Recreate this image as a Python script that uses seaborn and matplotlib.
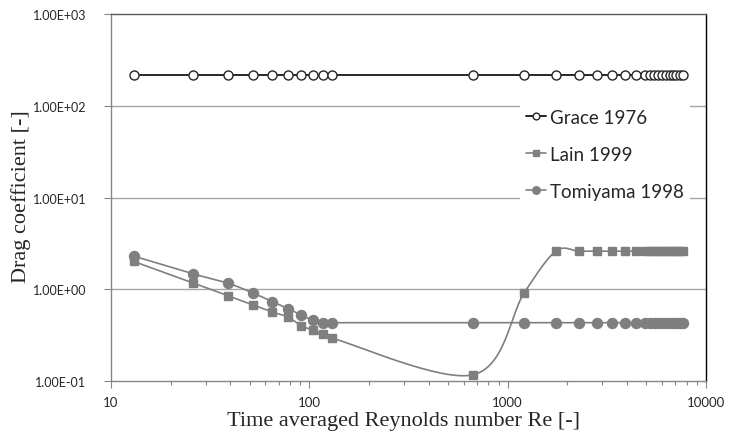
import numpy as np
import pandas as pd
import matplotlib
matplotlib.use("Agg")
import matplotlib.pyplot as plt
from matplotlib.lines import Line2D
import seaborn as sns

# ---- data ----
reynolds = [13, 26, 39, 52, 65, 78, 91, 104, 117, 130,
            671, 1213, 1750, 2276, 2813, 3348, 3908, 4425, 4924,
            5200, 5470, 5740, 6010, 6280, 6550, 6820, 7090, 7360, 7630]
grace = [215] * len(reynolds)
lain = [2.01, 1.17, 0.846, 0.675, 0.565, 0.499, 0.401, 0.36, 0.325, 0.294,
        0.117, 0.92, 2.6, 2.6, 2.6, 2.6, 2.6, 2.6, 2.6,
        2.6, 2.6, 2.6, 2.6, 2.6, 2.6, 2.6, 2.6, 2.6, 2.6]
tomiyama = [2.30, 1.47, 1.16, 0.91, 0.733, 0.615, 0.525, 0.458, 0.432, 0.432,
            0.432, 0.432, 0.432, 0.432, 0.432, 0.432, 0.432, 0.432, 0.432,
            0.432, 0.432, 0.432, 0.432, 0.432, 0.432, 0.432, 0.432, 0.432, 0.432]
series_names = ["Grace 1976", "Lain 1999", "Tomiyama 1998"]
x_ticks = [10, 100, 1000, 10000]
x_ticklabels = ["10", "100", "1000", "10000"]
y_ticks = [0.1, 1, 10, 100, 1000]
y_ticklabels = ["1.00E-01", "1.00E+00", "1.00E+01", "1.00E+02", "1.00E+03"]


def smooth(xs, ys, n=30):
    """Excel-style smoothed line (Bezier through points) in log-log space."""
    lx = np.log10(np.asarray(xs, float))
    ly = np.log10(np.asarray(ys, float))
    P = np.column_stack([lx, ly])
    out = []
    m = len(P)
    for i in range(m - 1):
        p0 = P[i - 1] if i > 0 else P[i]
        p1, p2 = P[i], P[i + 1]
        p3 = P[i + 2] if i + 2 < m else P[i + 1]
        c1 = p1 + (p2 - p0) / 6.0
        c2 = p2 - (p3 - p1) / 6.0
        t = np.linspace(0, 1, n)[:, None]
        seg = ((1 - t) ** 3) * p1 + 3 * ((1 - t) ** 2) * t * c1 + 3 * (1 - t) * t ** 2 * c2 + t ** 3 * p2
        out.append(seg if i == 0 else seg[1:])
    S = np.vstack(out)
    return 10 ** S[:, 0], 10 ** S[:, 1]


sns.set_style("white")
plt.rcParams["font.family"] = ["Lato", "DejaVu Sans"]

fig = plt.figure(figsize=(7.29, 4.35), dpi=100)
ax = fig.add_axes([111 / 729, 1 - 382 / 435, (706 - 111) / 729, (382 - 15) / 435])

gray = "#7f7f7f"
styles = {
    "Grace 1976": dict(y=grace, color="#262626", marker="o", mfc="white", mec="#262626", ms=6.5, lw=1.4),
    "Lain 1999": dict(y=lain, color=gray, marker="s", mfc=gray, mec=gray, ms=5.5, lw=1.2),
    "Tomiyama 1998": dict(y=tomiyama, color=gray, marker="o", mfc=gray, mec=gray, ms=7.2, lw=1.2),
}

for name in series_names:
    st = styles[name]
    sx, sy = smooth(reynolds, st["y"])
    df_line = pd.DataFrame({"Re": sx, "Cd": sy})
    sns.lineplot(data=df_line, x="Re", y="Cd", ax=ax, color=st["color"], lw=st["lw"],
                 sort=False, estimator=None, zorder=3)
    ax.plot(reynolds, st["y"], ls="none", marker=st["marker"], mfc=st["mfc"],
            mec=st["mec"], ms=st["ms"], mew=1.0, zorder=4)

ax.set_xscale("log")
ax.set_yscale("log")
ax.set_xlim(10, 10000)
ax.set_ylim(0.1, 1000)

ax.set_xticks(x_ticks)
ax.set_xticklabels(x_ticklabels)
ax.set_yticks(y_ticks)
ax.set_yticklabels(y_ticklabels)
ax.yaxis.set_minor_locator(matplotlib.ticker.NullLocator())
ax.xaxis.set_minor_locator(matplotlib.ticker.LogLocator(base=10, subs=np.arange(2, 10)))
ax.xaxis.set_minor_formatter(matplotlib.ticker.NullFormatter())

ax.tick_params(axis="x", which="major", direction="out", length=5, width=0.8, color="#868686",
               labelsize=9.5, pad=6, bottom=True)
ax.tick_params(axis="x", which="minor", direction="out", length=3, width=0.8, color="#868686", bottom=True)
ax.tick_params(axis="y", which="major", direction="out", length=5, width=0.8, color="#868686",
               labelsize=9, pad=13, left=True)

ax.grid(False)
for yv in y_ticks[1:-1]:
    ax.axhline(yv, color="#a6a6a6", lw=1.0, zorder=1)

ax.spines["left"].set_color("#868686")
ax.spines["bottom"].set_color("#868686")
ax.spines["top"].set_color("#595959")
ax.spines["right"].set_color("#000000")
for s in ax.spines.values():
    s.set_linewidth(1.0)

ax.set_xlabel("Time averaged Reynolds number Re [-]", family=["Liberation Serif"], fontsize=16)
ax.set_ylabel("Drag coefficient [-]", family=["Liberation Serif"], fontsize=16)
ax.xaxis.set_label_coords(0.4916, -0.083)
ax.yaxis.set_label_coords(-0.135, 0.504)

handles = []
for name in series_names:
    st = styles[name]
    handles.append(Line2D([0], [0], color=st["color"], lw=st["lw"], marker=st["marker"],
                          mfc=st["mfc"], mec=st["mec"], ms=st["ms"] * 0.75))
leg = fig.legend(handles, series_names, loc="upper left", bbox_to_anchor=(520 / 729, 1 - 104 / 435),
                 frameon=True, fontsize=13.5, handlelength=1.1, handletextpad=0.2,
                 labelspacing=1.07, borderpad=0.3, borderaxespad=0)
leg.get_frame().set_facecolor("white")
leg.get_frame().set_edgecolor("none")
leg.get_frame().set_alpha(1)
leg.set_zorder(5)

fig.savefig("out.png", dpi=100)
